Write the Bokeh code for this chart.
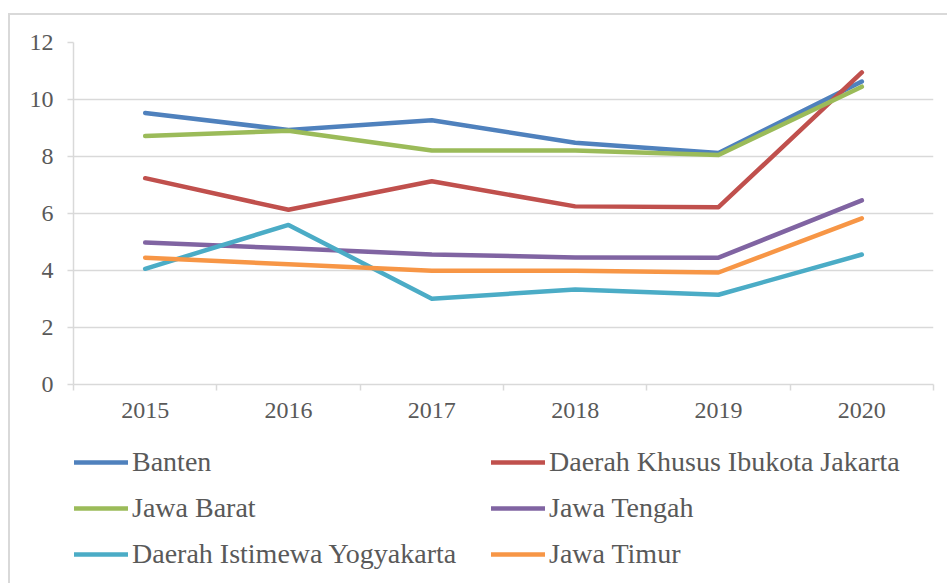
from bokeh.plotting import figure
from bokeh.models import Range1d, FixedTicker, Legend, LegendItem
from bokeh.layouts import column
from bokeh.embed import file_html
from bokeh.resources import INLINE

years = [2015, 2016, 2017, 2018, 2019, 2020]
banten = [9.53, 8.93, 9.27, 8.48, 8.12, 10.63]
dki_jakarta = [7.24, 6.13, 7.13, 6.25, 6.22, 10.95]
jawa_barat = [8.72, 8.90, 8.21, 8.21, 8.05, 10.45]
jawa_tengah = [4.98, 4.78, 4.56, 4.46, 4.45, 6.46]
diy = [4.06, 5.60, 3.01, 3.33, 3.15, 4.56]
jawa_timur = [4.45, 4.22, 3.99, 3.99, 3.93, 5.83]

series = [
    ("Banten", banten, "#4F81BD"),
    ("Daerah Khusus Ibukota Jakarta", dki_jakarta, "#C0504D"),
    ("Jawa Barat", jawa_barat, "#9BBB59"),
    ("Jawa Tengah", jawa_tengah, "#8064A2"),
    ("Daerah Istimewa Yogyakarta", diy, "#4BACC6"),
    ("Jawa Timur", jawa_timur, "#F79646"),
]

FONT = "Liberation Serif"
TXT = "#595959"
GRID = "#d9d9d9"
LW = 4.5

# ---- main chart ----
p = figure(frame_width=858, frame_height=340, output_backend="svg", toolbar_location=None,
           x_range=Range1d(years[0] - 0.5, years[-1] + 0.5), y_range=Range1d(0, 12),
           min_border_left=63, min_border_right=16, min_border_top=27, min_border_bottom=45)
p.outline_line_color = None
p.background_fill_color = "white"
p.border_fill_color = "white"
p.styles = {"border-left": "2px solid #d9d9d9", "border-top": "2px solid #d9d9d9",
            "margin-left": "8px", "margin-top": "13px"}

for name, vals, col in series:
    p.line(years, vals, line_color=col, line_width=LW, line_join="round", line_cap="round")

p.yaxis.ticker = FixedTicker(ticks=[0, 2, 4, 6, 8, 10, 12])
p.yaxis.axis_line_color = GRID
p.yaxis.axis_line_width = 1.5
p.yaxis.major_tick_line_color = GRID
p.yaxis.major_tick_line_width = 1.5
p.yaxis.major_tick_out = 6
p.yaxis.major_tick_in = 0
p.yaxis.minor_tick_line_color = None
p.yaxis.major_label_text_font = FONT
p.yaxis.major_label_text_font_size = "24px"
p.yaxis.major_label_text_color = TXT
p.yaxis.major_label_standoff = 14

p.xaxis.ticker = FixedTicker(ticks=years, minor_ticks=[y - 0.5 for y in years] + [years[-1] + 0.5])
p.xaxis.axis_line_color = GRID
p.xaxis.axis_line_width = 1.5
p.xaxis.major_tick_line_color = None
p.xaxis.minor_tick_line_color = GRID
p.xaxis.minor_tick_line_width = 1.5
p.xaxis.minor_tick_out = 6
p.xaxis.minor_tick_in = 0
p.xaxis.major_label_text_font = FONT
p.xaxis.major_label_text_font_size = "24px"
p.xaxis.major_label_text_color = TXT
p.xaxis.major_label_standoff = 12

p.xgrid.grid_line_color = None
p.ygrid.grid_line_color = GRID
p.ygrid.grid_line_width = 1.5

# ---- legend panel ----
q = figure(frame_width=858, frame_height=156, output_backend="svg", toolbar_location=None,
           x_range=Range1d(years[0] - 0.5, years[-1] + 0.5), y_range=Range1d(100, 101),
           x_axis_location=None, y_axis_location=None,
           min_border_left=63, min_border_right=16, min_border_top=0, min_border_bottom=0)
q.outline_line_color = None
q.grid.visible = False
q.styles = {"border-left": "2px solid #d9d9d9", "margin-left": "8px"}

col_a, col_b = [], []
for i, (name, vals, col) in enumerate(series):
    r = q.line(years, vals, line_color=col, line_width=LW, line_cap="round")
    (col_a if i % 2 == 0 else col_b).append(LegendItem(label=name, renderers=[r]))

def make_legend(items, loc):
    return Legend(items=items, orientation="vertical",
                  label_text_font=FONT, label_text_font_size="28px", label_text_color=TXT,
                  glyph_width=54, glyph_height=40, label_height=40, label_standoff=4,
                  spacing=6, padding=0, margin=0, border_line_color=None,
                  background_fill_alpha=0, location=loc)

q.add_layout(make_legend(col_a, (1, 9)))
q.add_layout(make_legend(col_b, (418, 9)))

layout = column(p, q, spacing=0)
open("out.html", "w").write(file_html(layout, INLINE))
